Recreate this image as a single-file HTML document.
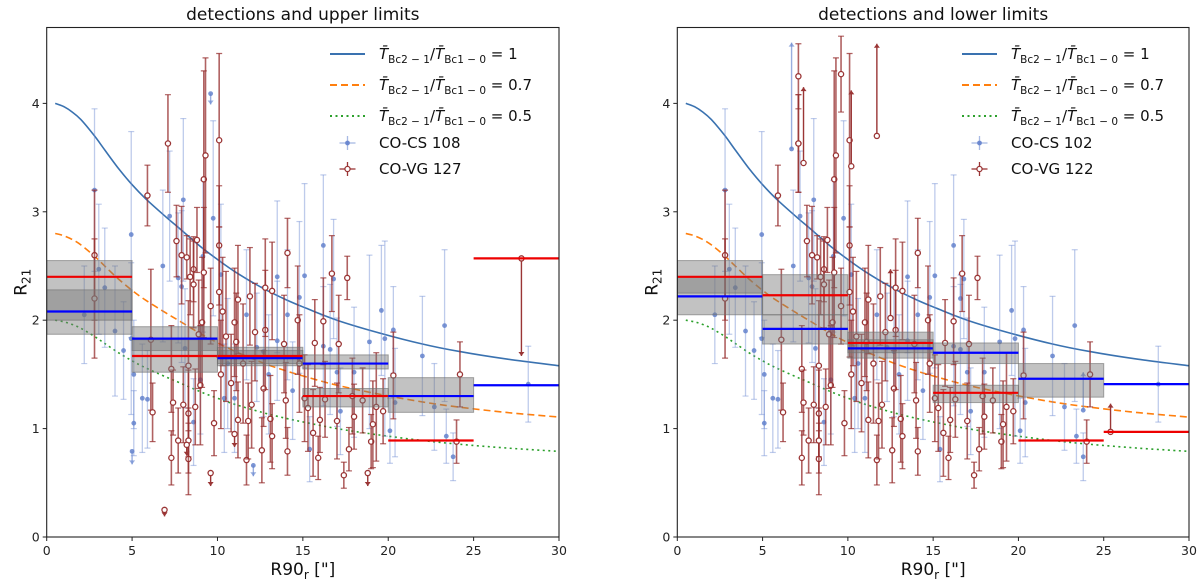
<!DOCTYPE html>
<html><head><meta charset="utf-8">
<style>
html,body{margin:0;padding:0;background:#fff;}
svg{display:block;font-family:"DejaVu Sans","Liberation Sans",sans-serif;}
</style></head>
<body>
<svg id="fig" width="1200" height="587" viewBox="0 0 1200 587"></svg>
<script>
// ---- data ----
const curveX = [0.5,1,1.5,2,2.8,3.4,4.2,5,5.8,7,7.75,9,10,11,12.6,14,15.2,17,19.3,22,24.2,27,30];
const curveY = [4.0,3.97,3.92,3.85,3.70,3.57,3.40,3.25,3.12,2.95,2.85,2.68,2.56,2.45,2.30,2.19,2.11,2.00,1.89,1.78,1.71,1.64,1.58];
const ratios = [1,0.7,0.5];
const ratioLabels = ["1","0.7","0.5"];

const redX = [2.8,2.8,5.9,6.1,6.2,7.1,7.3,7.3,7.4,7.6,7.7,7.9,8.0,8.2,8.3,8.3,8.3,8.3,8.4,8.6,8.6,8.7,8.8,8.9,9.0,9.1,9.2,9.2,9.3,9.6,9.8,10.1,10.1,10.1,10.2,10.3,10.5,10.8,11.0,11.1,11.2,11.2,11.5,11.7,11.8,11.9,12.0,12.2,12.6,12.7,12.8,12.8,13.1,13.2,13.2,13.9,14.0,14.1,14.1,14.7,14.8,15.1,15.3,15.6,15.7,15.9,16.0,16.2,16.3,16.7,17.0,17.1,17.4,17.6,17.7,17.9,18.0,18.5,19.0,19.1,19.3,19.7,20.3,24.0,24.2];
const redY = [2.6,2.2,3.15,1.82,1.15,3.63,1.55,0.73,1.24,2.73,0.89,2.6,1.22,2.58,1.58,1.14,0.72,0.89,2.4,2.47,2.33,1.2,2.74,1.87,1.4,1.98,3.3,2.44,3.52,2.13,1.05,2.69,3.66,2.26,1.5,2.08,1.85,1.42,1.98,1.8,1.08,2.19,1.6,0.71,1.07,2.22,1.22,1.89,0.8,1.37,1.91,2.3,1.09,0.93,2.27,1.78,1.26,0.79,2.62,2.0,1.6,1.28,1.19,0.96,1.79,0.73,1.08,1.99,1.27,2.43,1.07,1.78,0.57,2.39,0.81,1.3,1.11,1.26,0.88,1.04,1.2,1.16,1.49,0.88,1.5];
const redErr = [0.6,0.55,0.28,0.65,0.27,0.45,0.4,0.25,0.3,0.33,0.3,0.45,0.35,0.2,0.6,0.4,0.33,0.3,0.35,0.3,0.4,0.35,0.3,0.5,0.55,0.6,1.0,0.6,0.9,0.35,0.3,0.55,0.8,0.6,0.5,0.5,0.6,0.45,0.5,0.45,0.35,0.5,0.55,0.23,0.35,0.45,0.4,0.45,0.3,0.35,0.55,0.45,0.4,0.3,0.45,0.45,0.35,0.22,0.32,0.5,0.45,0.4,0.4,0.4,0.4,0.2,0.3,0.4,0.35,0.35,0.35,0.45,0.12,0.2,0.2,0.35,0.3,0.3,0.25,0.4,0.5,0.3,0.4,0.2,0.3];

const blueX = [2.8,2.2,3.05,3.4,4.0,4.5,4.95,4.95,5.1,5.1,5.6,5.9,7.2,8.0,7.9,7.7,8.1,8.6,9.75,9.15,10.2,10.4,11.0,11.7,12.7,13.5,13.5,14.1,14.8,15.1,15.4,16.2,16.2,16.6,16.8,17.0,17.2,18.0,18.9,19.6,19.8,20.1,20.3,20.4,22.0,22.7,23.3,23.4,23.8,28.2,6.8,9.0,10.6,12.3,13.0,14.4];
const blueY = [3.2,2.05,2.47,2.3,1.9,1.72,2.79,1.83,1.5,1.05,1.28,1.27,2.96,3.11,2.31,2.39,1.74,1.06,2.94,2.59,2.42,1.28,1.28,2.05,1.71,2.4,1.81,2.05,2.21,2.41,0.81,2.69,1.76,1.73,2.38,1.52,1.16,1.52,1.8,2.09,1.83,0.98,1.91,1.24,1.67,1.2,1.95,0.93,0.74,1.41,2.5,1.45,1.6,1.75,1.5,1.35];
const blueErr = [0.75,0.45,0.6,0.55,0.6,0.45,0.95,0.7,0.5,0.3,0.5,0.45,0.6,0.75,0.7,0.6,0.55,0.4,0.9,0.7,0.65,0.5,0.5,0.6,0.6,0.7,0.55,0.6,0.7,0.85,0.3,0.65,0.55,0.6,0.55,0.5,0.4,0.6,0.8,0.6,0.9,0.3,0.4,0.5,0.55,0.4,0.7,0.25,0.22,0.35,0.7,0.5,0.6,0.5,0.55,0.45];

const upRedX = [9.6,18.8,6.9,27.8,11.0,8.2];
const upRedY = [0.59,0.59,0.25,2.57,0.95,0.85];
const upRedLen = [0.12,0.12,0.06,0.9,0.12,0.1];
const upBlueX = [5.0,12.1,9.6];
const upBlueY = [0.79,0.66,4.09];
const upBlueLen = [0.12,0.1,0.1];
const loRedX = [7.4,10.2,11.7,25.4,12.5];
const loRedY = [3.45,3.42,3.7,0.97,2.02];
const loRedLen = [0.7,0.7,0.85,0.26,0.45];
const loBlueX = [6.7,23.8,16.6];
const loBlueY = [3.58,1.17,2.2];
const loBlueLen = [0.98,0.35,0.25];
const extraRedX = [7.1,9.6,7.1];
const extraRedY = [4.25,4.27,3.63];
const extraRedErr = [0.3,0.35,0.45];

const binEdges = [0,5,10,15,20,25,30];
const leftRedBin = [2.40,1.67,1.67,1.30,0.89,2.57];
const leftBlueBin = [2.08,1.83,1.65,1.60,1.30,1.40];
const leftBoxLo = [[1.87,2.0],[1.72,1.52],[1.58,1.6],[1.55,1.2],[1.15,null],[null,null]];
const leftBoxHi = [[2.28,2.55],[1.94,1.82],[1.75,1.72],[1.68,1.37],[1.47,null],[null,null]];
const rightRedBin = [2.40,2.23,1.79,1.33,0.89,0.97];
const rightBlueBin = [2.22,1.92,1.74,1.70,1.46,1.41];
const rightBoxLo = [[2.05,2.25],[1.78,2.05],[1.65,1.7],[1.6,1.24],[1.29,null],[null,null]];
const rightBoxHi = [[2.40,2.55],[2.05,2.42],[1.82,1.89],[1.79,1.4],[1.6,null],[null,null]];

const xTicks = [0,5,10,15,20,25,30];
const yTicks = [0,1,2,3,4];

const NS = "http://www.w3.org/2000/svg";
const svg = document.getElementById("fig");
function mk(tag, attrs, parent){
  const e = document.createElementNS(NS, tag);
  for (const k in attrs) e.setAttribute(k, attrs[k]);
  (parent||svg).appendChild(e);
  return e;
}
function smoothPath(pts){
  let d = "M"+pts[0][0].toFixed(1)+","+pts[0][1].toFixed(1);
  for (let i=0;i<pts.length-1;i++){
    const p0 = pts[Math.max(0,i-1)], p1 = pts[i], p2 = pts[i+1], p3 = pts[Math.min(pts.length-1,i+2)];
    const c1x = p1[0]+(p2[0]-p0[0])/6, c1y = p1[1]+(p2[1]-p0[1])/6;
    const c2x = p2[0]-(p3[0]-p1[0])/6, c2y = p2[1]-(p3[1]-p1[1])/6;
    d += "C"+c1x.toFixed(1)+","+c1y.toFixed(1)+" "+c2x.toFixed(1)+","+c2y.toFixed(1)+" "+p2[0].toFixed(1)+","+p2[1].toFixed(1);
  }
  return d;
}

function panel(opt){
  const L = opt.left, R = opt.right, T = 27.5, B = 537;
  const sx = v => L + (v/30)*(R-L);
  const sy = v => B - (v/4.7)*(B-T);
  const g = mk("g", {});
  
  
  const clipId = opt.name + "-clip";
  const cp = mk("clipPath", {id: clipId}, g);
  mk("rect", {x:L, y:T, width:R-L, height:B-T}, cp);
  const pg = mk("g", {"clip-path":"url(#"+clipId+")"}, g);

  const colors = ["#3a72b0","#ff7f0e","#2ca02c"];
  const dashes = ["", "7,4", "2,3.5"];
  ratios.forEach((r,i)=>{
    const pts = curveX.map((x,j)=>[sx(x), sy(curveY[j]*r)]);
    const p = mk("path", {d:smoothPath(pts), fill:"none", stroke:colors[i], "stroke-width":1.6, "stroke-dasharray":dashes[i]}, pg);
    
    
  });

  const drawPoint = (x,y,e,kind,parent)=>{
    const gg = mk("g", {}, parent);
    
    
    const col = kind==="red" ? "rgba(150,45,45,0.75)" : "rgba(110,140,210,0.45)";
    const X = sx(x);
    mk("line", {x1:X, x2:X, y1:sy(y-e), y2:sy(y+e), stroke:col, "stroke-width": kind==="red"?1.6:1.3}, gg);
    mk("line", {x1:X-3, x2:X+3, y1:sy(y-e), y2:sy(y-e), stroke:col, "stroke-width":1.2}, gg);
    mk("line", {x1:X-3, x2:X+3, y1:sy(y+e), y2:sy(y+e), stroke:col, "stroke-width":1.2}, gg);
    if (kind==="red") mk("circle", {cx:X, cy:sy(y), r:2.6, fill:"#fff", stroke:"#9a3535", "stroke-width":1.3}, gg);
    else mk("circle", {cx:X, cy:sy(y), r:2.4, fill:"rgba(100,130,205,0.85)"}, gg);
  };
  const drawLimit = (x,y,len,dir,kind,parent)=>{
    const gg = mk("g", {}, parent);
    
    
    const col = kind==="red" ? "#9a3535" : "rgba(110,140,210,0.7)";
    const X = sx(x), Y0 = sy(y), Y1 = sy(y+dir*len);
    mk("line", {x1:X, x2:X, y1:Y0, y2:Y1, stroke:col, "stroke-width":1.4}, gg);
    const s = dir<0 ? -1 : 1;
    mk("polygon", {points:(X-3)+","+(Y1+s*4)+" "+(X+3)+","+(Y1+s*4)+" "+X+","+Y1, fill:col}, gg);
    if (kind==="red") mk("circle", {cx:X, cy:Y0, r:2.6, fill:"#fff", stroke:"#9a3535", "stroke-width":1.3}, gg);
    else mk("circle", {cx:X, cy:Y0, r:2.4, fill:"rgba(100,130,205,0.85)"}, gg);
  };
  blueX.forEach((x,i)=>drawPoint(x, blueY[i], blueErr[i], "blue", pg));
  if (opt.upper){
    upBlueX.forEach((x,i)=>drawLimit(x, upBlueY[i], upBlueLen[i], -1, "blue", pg));
  } else {
    loBlueX.forEach((x,i)=>drawLimit(x, loBlueY[i], loBlueLen[i], 1, "blue", pg));
  }
  redX.forEach((x,i)=>drawPoint(x, redY[i], redErr[i], "red", pg));
  if (opt.upper){
    upRedX.forEach((x,i)=>drawLimit(x, upRedY[i], upRedLen[i], -1, "red", pg));
  } else {
    extraRedX.forEach((x,i)=>drawPoint(x, extraRedY[i], extraRedErr[i], "red", pg));
    loRedX.forEach((x,i)=>drawLimit(x, loRedY[i], loRedLen[i], 1, "red", pg));
  }

  for (let b=0;b<6;b++){
    const x0 = sx(binEdges[b]), x1 = sx(binEdges[b+1]);
    for (let k=0;k<2;k++){
      const lo = opt.boxLo[b][k], hi = opt.boxHi[b][k];
      if (lo===null) continue;
      const r = mk("rect", {x:x0, y:sy(hi), width:x1-x0, height:sy(lo)-sy(hi), fill:"rgba(120,120,120,0.45)", stroke:"rgba(110,110,110,0.6)", "stroke-width":1}, pg);
      
      
    }
    const lb = mk("line", {x1:x0, x2:x1, y1:sy(opt.blueBin[b]), y2:sy(opt.blueBin[b]), stroke:"#0000ff", "stroke-width":2.2}, pg);
    
    
    const lr = mk("line", {x1:x0, x2:x1, y1:sy(opt.redBin[b]), y2:sy(opt.redBin[b]), stroke:"#ee0000", "stroke-width":2.2}, pg);
    
    
  }

  const fr = mk("rect", {x:L, y:T, width:R-L, height:B-T, fill:"none", stroke:"#222", "stroke-width":1.1}, g);
  
  
  xTicks.forEach(t=>{
    mk("line", {x1:sx(t), x2:sx(t), y1:B, y2:B+4, stroke:"#222", "stroke-width":1}, g);
    const tx = mk("text", {x:sx(t), y:B+18, "text-anchor":"middle", "font-size":12.5, fill:"#222"}, g);
    tx.textContent = t;
    
    
  });
  yTicks.forEach(t=>{
    mk("line", {x1:L-4, x2:L, y1:sy(t), y2:sy(t), stroke:"#222", "stroke-width":1}, g);
    const tx = mk("text", {x:L-7, y:sy(t)+4.5, "text-anchor":"end", "font-size":12.5, fill:"#222"}, g);
    tx.textContent = t;
    
    
  });
  const ti = mk("text", {x:(L+R)/2, y:20, "text-anchor":"middle", "font-size":17, fill:"#111"}, g);
  ti.textContent = opt.title;
  
  
  const xl = mk("text", {x:(L+R)/2, y:575, "text-anchor":"middle", "font-size":17, fill:"#111"}, g);
  xl.innerHTML = 'R90<tspan font-size="12" dy="4">r</tspan><tspan dy="-4"> ["]</tspan>';
  
  
  const yl = mk("text", {x:0, y:0, "text-anchor":"middle", "font-size":17, fill:"#111", transform:"translate("+(L-20)+","+((T+B)/2)+") rotate(-90)"}, g);
  yl.innerHTML = 'R<tspan font-size="12" dy="4">21</tspan>';
  
  

  const lx0 = opt.legX, lx1 = opt.legX + 35, tx0 = opt.legX + 49;
  const rows = [54,85,116,143,169];
  ratios.forEach((r,i)=>{
    const le = mk("g", {}, g);
    
    
    mk("line", {x1:lx0, x2:lx1, y1:rows[i], y2:rows[i], stroke:colors[i], "stroke-width":2, "stroke-dasharray":dashes[i]}, le);
    const t = mk("text", {x:tx0, y:rows[i]+5, "font-size":15, fill:"#111"}, le);
    t.innerHTML = '<tspan font-style="italic">T\u0304</tspan><tspan font-size="10.5" dy="4">Bc2 \u2212 1</tspan><tspan dy="-4">/</tspan><tspan font-style="italic">T\u0304</tspan><tspan font-size="10.5" dy="4">Bc1 \u2212 0</tspan><tspan dy="-4"> = ' + ratioLabels[i] + '</tspan>';
  });
  const le1 = mk("g", {}, g);
  
  
  const cxm = (lx0+lx1)/2;
  mk("line", {x1:cxm-8, x2:cxm+8, y1:rows[3], y2:rows[3], stroke:"rgba(110,140,210,0.6)", "stroke-width":1.3}, le1);
  mk("line", {x1:cxm, x2:cxm, y1:rows[3]-7, y2:rows[3]+7, stroke:"rgba(110,140,210,0.6)", "stroke-width":1.3}, le1);
  mk("circle", {cx:cxm, cy:rows[3], r:2.4, fill:"rgba(100,130,205,0.9)"}, le1);
  const t1 = mk("text", {x:tx0, y:rows[3]+5, "font-size":15, fill:"#111"}, le1);
  t1.textContent = opt.csLabel;
  const le2 = mk("g", {}, g);
  
  
  mk("line", {x1:cxm-8, x2:cxm+8, y1:rows[4], y2:rows[4], stroke:"#9a3535", "stroke-width":1.3}, le2);
  mk("line", {x1:cxm, x2:cxm, y1:rows[4]-7, y2:rows[4]+7, stroke:"#9a3535", "stroke-width":1.3}, le2);
  mk("circle", {cx:cxm, cy:rows[4], r:2.6, fill:"#fff", stroke:"#9a3535", "stroke-width":1.3}, le2);
  const t2 = mk("text", {x:tx0, y:rows[4]+5, "font-size":15, fill:"#111"}, le2);
  t2.textContent = opt.vgLabel;
}

panel({name:"left-panel", left:46.7, right:559, upper:true, title:"detections and upper limits",
  redBin:leftRedBin, blueBin:leftBlueBin, boxLo:leftBoxLo, boxHi:leftBoxHi,
  legX:330, csLabel:"CO-CS 108", vgLabel:"CO-VG 127"});
panel({name:"right-panel", left:677.3, right:1189, upper:false, title:"detections and lower limits",
  redBin:rightRedBin, blueBin:rightBlueBin, boxLo:rightBoxLo, boxHi:rightBoxHi,
  legX:962, csLabel:"CO-CS 102", vgLabel:"CO-VG 122"});
</script>
</body></html>
